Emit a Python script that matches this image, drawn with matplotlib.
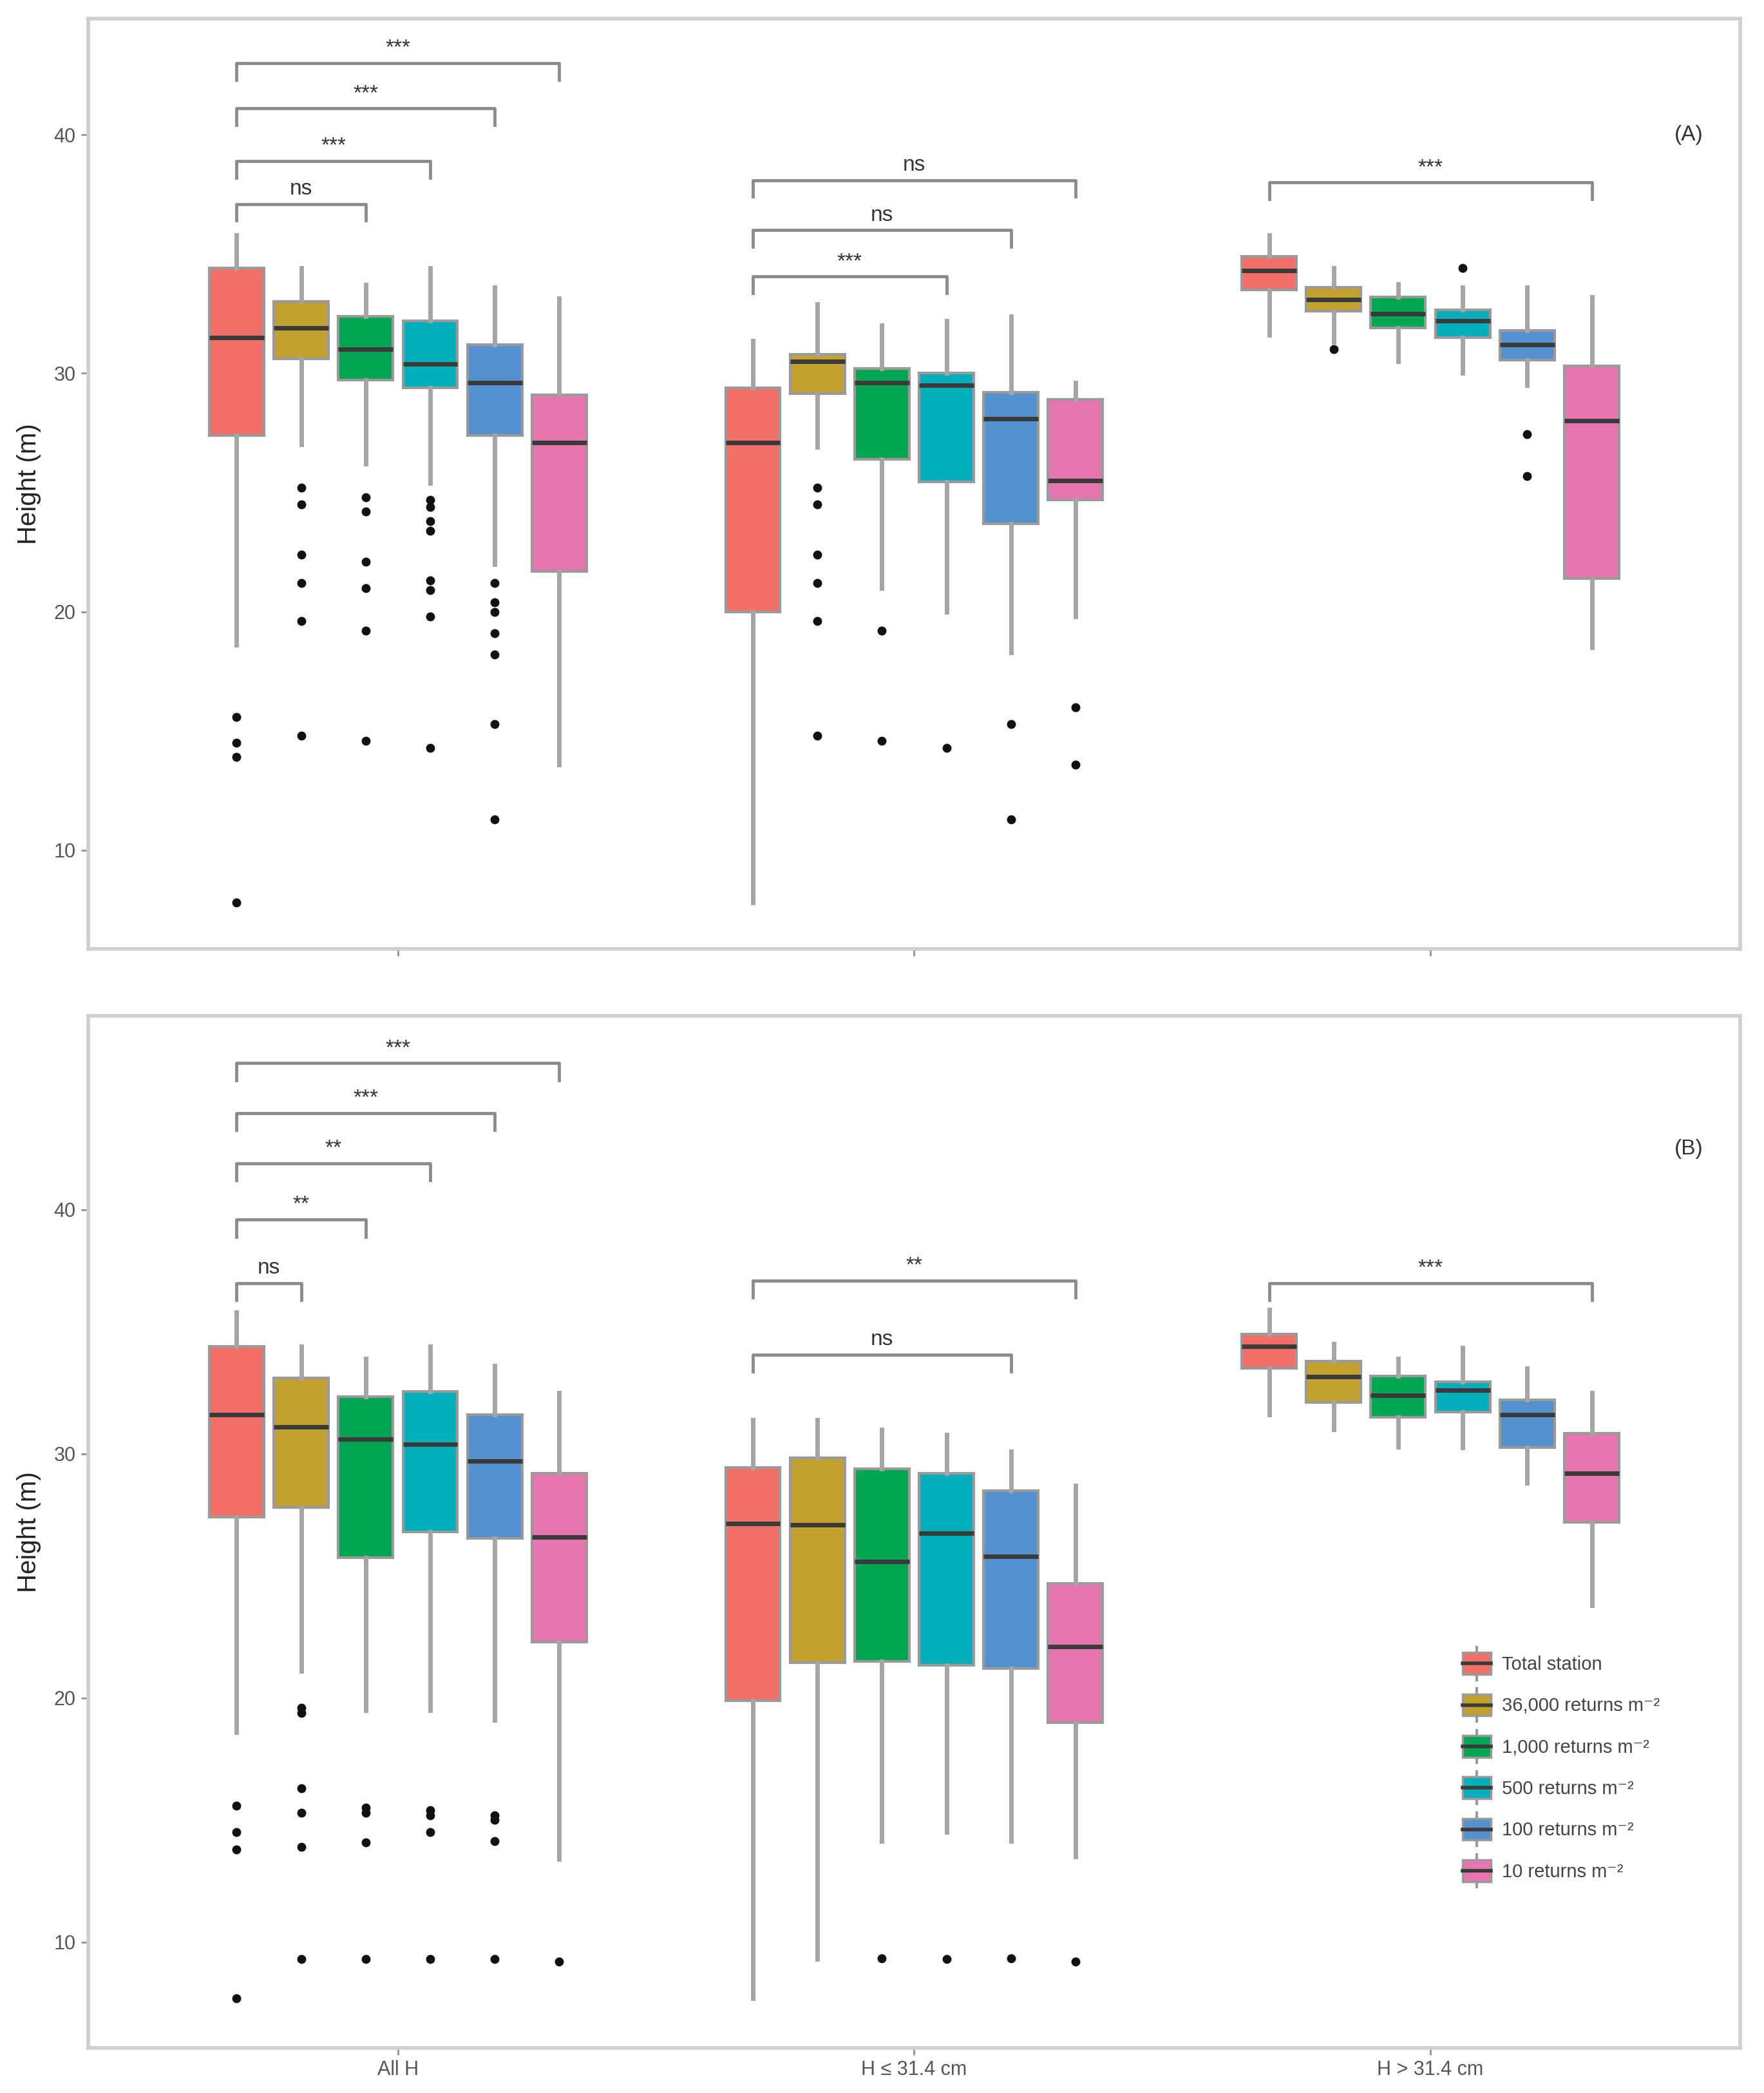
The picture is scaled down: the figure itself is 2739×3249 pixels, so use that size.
import matplotlib
matplotlib.use('Agg')
import matplotlib.pyplot as plt
from matplotlib.patches import Patch, Rectangle
from matplotlib.lines import Line2D
from matplotlib.legend_handler import HandlerBase

plt.rcParams['font.family'] = ['Liberation Sans', 'DejaVu Sans']

groups = ['All H', 'H ≤ 31.4 cm', 'H > 31.4 cm']
series = ['Total station', '36,000 returns m⁻²', '1,000 returns m⁻²',
          '500 returns m⁻²', '100 returns m⁻²', '10 returns m⁻²']
colors = ['#F07068', '#C2A12E', '#00A651', '#00AFBA', '#5591D0', '#E876AE']

# ---- panel A : box statistics, one row per group, one value per series
a_whislo = [[18.6, 27.0, 26.2, 25.4, 22.0, 13.6],
            [7.8, 26.9, 21.0, 20.0, 18.3, 19.8],
            [31.6, 31.3, 30.5, 30.0, 29.5, 18.5]]
a_q1 = [[27.4, 30.6, 29.7, 29.4, 27.4, 21.7],
        [20.0, 29.15, 26.4, 25.45, 23.7, 24.7],
        [33.5, 32.6, 31.9, 31.5, 30.55, 21.4]]
a_med = [[31.5, 31.9, 31.0, 30.4, 29.6, 27.1],
         [27.1, 30.5, 29.6, 29.5, 28.1, 25.5],
         [34.3, 33.1, 32.5, 32.2, 31.2, 28.0]]
a_q3 = [[34.4, 33.0, 32.4, 32.2, 31.2, 29.1],
        [29.4, 30.8, 30.2, 30.0, 29.2, 28.9],
        [34.9, 33.6, 33.2, 32.65, 31.8, 30.3]]
a_whishi = [[35.8, 34.4, 33.7, 34.4, 33.6, 33.15],
            [31.35, 32.9, 32.0, 32.2, 32.4, 29.6],
            [35.8, 34.4, 33.75, 33.6, 33.6, 33.2]]
a_fliers = [[[15.6, 14.5, 13.9, 7.8],
             [25.2, 24.5, 22.4, 21.2, 19.6, 14.8],
             [24.8, 24.2, 22.1, 21.0, 19.2, 14.6],
             [24.7, 24.4, 23.8, 23.4, 21.3, 20.9, 19.8, 14.3],
             [21.2, 20.4, 20.0, 19.1, 18.2, 15.3, 11.3],
             []],
            [[],
             [25.2, 24.5, 22.4, 21.2, 19.6, 14.8],
             [19.2, 14.6],
             [14.3],
             [15.3, 11.3],
             [16.0, 13.6]],
            [[], [31.0], [], [34.4], [27.45, 25.7], []]]
a_br_group = [0, 0, 0, 0, 1, 1, 1, 2]
a_br_end = [2, 3, 4, 5, 3, 4, 5, 5]
a_br_y = [37.1, 38.9, 41.1, 43.0, 34.05, 36.0, 38.1, 38.0]
a_br_label = ['ns', '***', '***', '***', '***', 'ns', 'ns', '***']

# ---- panel B
b_whislo = [[18.6, 21.1, 19.5, 19.5, 19.1, 13.4],
            [7.7, 9.3, 14.15, 14.5, 14.15, 13.5],
            [31.6, 31.0, 30.3, 30.25, 28.8, 23.8]]
b_q1 = [[27.4, 27.8, 25.75, 26.8, 26.55, 22.3],
        [19.9, 21.45, 21.5, 21.35, 21.2, 19.0],
        [33.5, 32.1, 31.5, 31.7, 30.25, 27.2]]
b_med = [[31.6, 31.1, 30.6, 30.4, 29.7, 26.6],
         [27.15, 27.1, 25.6, 26.75, 25.8, 22.1],
         [34.4, 33.15, 32.4, 32.6, 31.6, 29.2]]
b_q3 = [[34.4, 33.1, 32.35, 32.55, 31.6, 29.2],
        [29.45, 29.85, 29.4, 29.2, 28.5, 24.7],
        [34.9, 33.8, 33.2, 32.95, 32.2, 30.85]]
b_whishi = [[35.8, 34.4, 33.9, 34.4, 33.6, 32.5],
            [31.4, 31.4, 31.0, 30.8, 30.1, 28.7],
            [35.9, 34.5, 33.9, 34.35, 33.5, 32.5]]
b_fliers = [[[15.6, 14.5, 13.8, 7.7],
             [19.6, 19.4, 16.3, 15.3, 13.9, 9.3],
             [15.5, 15.3, 14.1, 9.3],
             [15.4, 15.2, 14.5, 9.3],
             [15.2, 15.0, 14.15, 9.3],
             [9.2]],
            [[], [], [9.35], [9.3], [9.35], [9.2]],
            [[], [], [], [], [], []]]
b_br_group = [0, 0, 0, 0, 0, 1, 1, 2]
b_br_end = [1, 2, 3, 4, 5, 4, 5, 5]
b_br_y = [37.0, 39.6, 41.9, 43.96, 46.0, 34.07, 37.1, 37.0]
b_br_label = ['ns', '**', '**', '***', '***', 'ns', '**', '***']


class BoxKey(HandlerBase):
    def create_artists(self, legend, orig_handle, xdescent, ydescent,
                       width, height, fontsize, trans):
        x0, y0 = -xdescent, -ydescent
        whisk = Line2D([x0 + width / 2] * 2, [y0 - 0.25 * height, y0 + 1.25 * height],
                       color='#9a9a9a', lw=3, transform=trans)
        box = Rectangle((x0, y0), width, height, facecolor=orig_handle.get_facecolor(),
                        edgecolor='#9a9a9a', lw=2.5, transform=trans)
        med = Line2D([x0, x0 + width], [y0 + height / 2] * 2, color='#3a3a3a',
                     lw=4, transform=trans)
        return [whisk, box, med]


def xpos(g, i):
    return g + 1 + (i - 2.5) * 0.125


def draw_panel(ax, whislo, q1, med, q3, whishi, fliers,
               br_group, br_end, br_y, br_label, ylim, tag, tag_y, xlabels):
    for g in range(3):
        for i in range(6):
            st = dict(whislo=whislo[g][i], q1=q1[g][i], med=med[g][i],
                      q3=q3[g][i], whishi=whishi[g][i], fliers=fliers[g][i])
            ax.bxp([st], positions=[xpos(g, i)], widths=0.106,
                   patch_artist=True, showcaps=False,
                   boxprops=dict(facecolor=colors[i], edgecolor='#9a9a9a', linewidth=3),
                   whiskerprops=dict(color='#a5a5a5', linewidth=5),
                   medianprops=dict(color='#3a3a3a', linewidth=5),
                   flierprops=dict(marker='o', markerfacecolor='#111111',
                                   markeredgecolor='#111111', markersize=9))
    for k in range(len(br_y)):
        g = br_group[k]
        x0 = xpos(g, 0)
        x1 = xpos(g, br_end[k])
        y = br_y[k]
        ax.plot([x0, x0, x1, x1], [y - 0.7, y, y, y - 0.7], color='#8c8c8c', lw=3.5)
        ax.text((x0 + x1) / 2, y + 0.2, br_label[k], ha='center', va='bottom',
                fontsize=24, color='#333333')
    ax.text(3.5, tag_y, tag, ha='center', va='center', fontsize=24, color='#333333')
    ax.set_xlim(0.4, 3.6)
    ax.set_ylim(*ylim)
    ax.set_xticks([1, 2, 3])
    if xlabels:
        ax.set_xticklabels(groups)
    else:
        ax.set_xticklabels([])
    ax.set_yticks([10, 20, 30, 40])
    ax.set_yticklabels(['10', '20', '30', '40'])
    ax.tick_params(axis='both', colors='#9a9a9a', length=8, width=2.2,
                   labelsize=22, labelcolor='#555555', pad=6)
    ax.set_ylabel('Height (m)', fontsize=29, color='#222222', labelpad=14)
    for s in ax.spines.values():
        s.set_color('#cfcfcf')
        s.set_linewidth(4)


fig = plt.figure(figsize=(27.39, 32.49), dpi=100)
ax_a = fig.add_axes([0.0500, 0.5466, 0.9365, 0.4444])
ax_b = fig.add_axes([0.0500, 0.02154, 0.9365, 0.4931])

draw_panel(ax_a, a_whislo, a_q1, a_med, a_q3, a_whishi, a_fliers,
           a_br_group, a_br_end, a_br_y, a_br_label, (5.86, 44.86), '(A)', 40.0, False)
draw_panel(ax_b, b_whislo, b_q1, b_med, b_q3, b_whishi, b_fliers,
           b_br_group, b_br_end, b_br_y, b_br_label, (5.67, 47.94), '(B)', 42.5, True)

handles = [Patch(facecolor=c, label=s) for c, s in zip(colors, series)]
ax_b.legend(handles=handles, handler_map={Patch: BoxKey()}, loc='upper left',
            bbox_to_anchor=(0.832, 0.383), frameon=False, fontsize=21,
            borderpad=0, borderaxespad=0, handlelength=1.5, handleheight=1.4,
            handletextpad=0.6, labelspacing=1.05, labelcolor='#444444')

fig.savefig('out.png', dpi=100, facecolor='white')
